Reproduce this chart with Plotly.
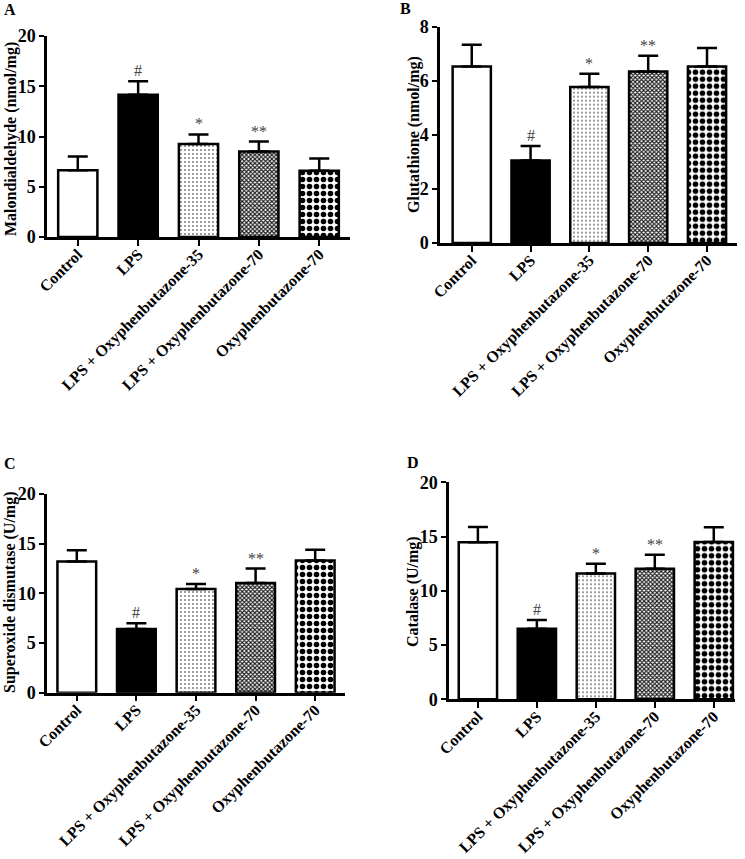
import plotly.graph_objects as go

categories = ["Control", "LPS", "LPS + Oxyphenbutazone-35", "LPS + Oxyphenbutazone-70", "Oxyphenbutazone-70"]

mda_mean = [6.65, 14.15, 9.25, 8.5, 6.6]
mda_sd = [1.35, 1.35, 0.95, 1.0, 1.2]
mda_sig = ["", "#", "*", "**", ""]

gsh_mean = [6.53, 3.05, 5.77, 6.34, 6.53]
gsh_sd = [0.8, 0.54, 0.49, 0.59, 0.68]
gsh_sig = ["", "#", "*", "**", ""]

sod_mean = [13.2, 6.4, 10.45, 11.05, 13.3]
sod_sd = [1.15, 0.6, 0.5, 1.45, 1.1]
sod_sig = ["", "#", "*", "**", ""]

cat_mean = [14.47, 6.5, 11.6, 12.03, 14.5]
cat_sd = [1.4, 0.8, 0.9, 1.3, 1.35]
cat_sig = ["", "#", "*", "**", ""]

panel_letters = ["A", "B", "C", "D"]
y_titles = ["Malondialdehyde (nmol/mg)", "Glutathione (nmol/mg)",
            "Superoxide dismutase (U/mg)", "Catalase (U/mg)"]
y_max = [20, 8, 20, 20]
y_dtick = [5, 2, 5, 5]

W, H = 745, 859
FONT = "Liberation Serif"

def px_x(v):
    return v / W

def px_y(v):
    return 1 - v / H

geom = [
    (47, 350, 36, 237, [-0.51, 4.51]),
    (440, 737, 26.7, 243, [-0.54, 4.51]),
    (47, 345, 494, 692.7, [-0.5, 4.5]),
    (449, 735, 482.3, 699.3, [-0.49, 4.36]),
]
letter_pos = [(10, 9), (405, 8), (10, 463), (413, 462)]
ytitle_pos = [(11, 139), (414, 135), (10, 592), (413, 592)]

shapes = ["", "", ".", "x", "."]
fg = ["black", "black", "#777777", "#1a1a1a", "black"]
bg = ["white", "black", "white", "white", "white"]
psize = [8, 8, 4, 3, 7]
psol = [0.3, 0.3, 0.18, 0.6, 0.5]

means = [mda_mean, gsh_mean, sod_mean, cat_mean]
sds = [mda_sd, gsh_sd, sod_sd, cat_sd]
sigs = [mda_sig, gsh_sig, sod_sig, cat_sig]

fig = go.Figure()
annotations = []

for i in range(4):
    xa = "x" if i == 0 else f"x{i+1}"
    ya = "y" if i == 0 else f"y{i+1}"
    for j in range(5):
        marker = dict(color=bg[j], line=dict(color="black", width=2.5))
        if shapes[j]:
            marker["pattern"] = dict(shape=shapes[j], fgcolor=fg[j], bgcolor=bg[j],
                                     size=psize[j], solidity=psol[j], fillmode="replace")
        fig.add_trace(go.Bar(
            x=[j], y=[means[i][j]], width=0.65,
            xaxis=xa, yaxis=ya, marker=marker,
            error_y=dict(type="data", symmetric=False, array=[sds[i][j]],
                         arrayminus=[0], color="black", thickness=2.5, width=10),
            showlegend=False,
        ))
    left, right, top, bottom, xr = geom[i]
    sx = "" if i == 0 else str(i + 1)
    fig.layout["xaxis" + sx] = dict(
        domain=[px_x(left), px_x(right)], range=xr, anchor=ya, automargin=False,
        tickmode="array", tickvals=list(range(5)), ticktext=categories,
        tickangle=-45, ticks="outside", ticklen=6, tickwidth=2, tickcolor="black",
        ticklabelstandoff=-7,
        showline=True, linecolor="black", linewidth=2.5, showgrid=False,
        zeroline=False,
        tickfont=dict(family=FONT, size=16, color="black", weight="bold"),
    )
    fig.layout["yaxis" + sx] = dict(
        domain=[px_y(bottom), px_y(top)], range=[0, y_max[i]], anchor=xa, automargin=False,
        dtick=y_dtick[i], ticks="outside", ticklen=5, tickwidth=2, tickcolor="black",
        showline=True, linecolor="black", linewidth=2.5, showgrid=False,
        zeroline=False,
        tickfont=dict(family=FONT, size=18, color="black", weight="bold"),
    )
    for j in range(5):
        if sigs[i][j]:
            annotations.append(dict(
                x=j, y=means[i][j] + sds[i][j], xref=xa, yref=ya,
                text=sigs[i][j], showarrow=False, yanchor="bottom", yshift=0,
                font=dict(family=FONT, size=16, color="#444444"),
            ))
    lx, ly = letter_pos[i]
    annotations.append(dict(
        x=px_x(lx), y=px_y(ly), xref="paper", yref="paper",
        text="<b>" + panel_letters[i] + "</b>", showarrow=False,
        xanchor="center", yanchor="middle",
        font=dict(family=FONT, size=16, color="black"),
    ))
    tx, ty = ytitle_pos[i]
    annotations.append(dict(
        x=px_x(tx), y=px_y(ty), xref="paper", yref="paper",
        text="<b>" + y_titles[i] + "</b>", showarrow=False, textangle=-90,
        xanchor="center", yanchor="middle",
        font=dict(family=FONT, size=16, color="black"),
    ))

fig.update_layout(
    width=W, height=H, margin=dict(l=0, r=0, t=0, b=0),
    plot_bgcolor="white", paper_bgcolor="white",
    annotations=annotations, barmode="overlay",
)

fig.write_html("out.html")
